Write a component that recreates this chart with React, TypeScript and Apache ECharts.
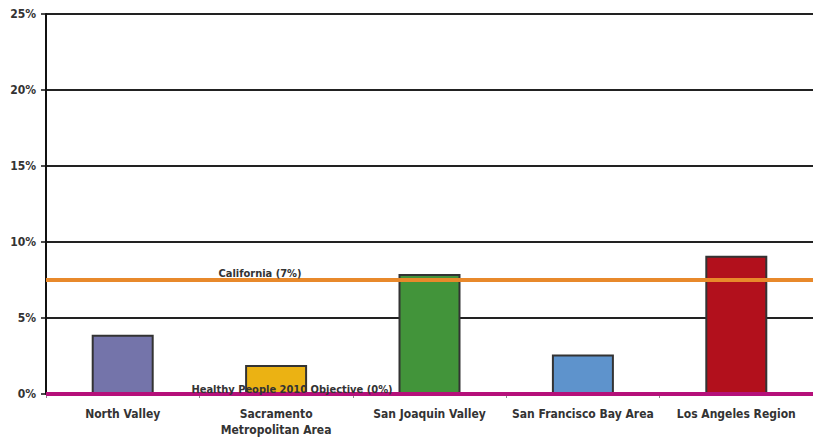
import React, { useEffect, useRef } from "react";
import * as echarts from "echarts";

const categories = [
  "North Valley",
  "Sacramento\nMetropolitan Area",
  "San Joaquin Valley",
  "San Francisco Bay Area",
  "Los Angeles Region",
];
const values = [3.9, 1.9, 7.9, 2.6, 9.1];
const barColors = ["#7474AA", "#EBB213", "#42943A", "#5E93CC", "#B2101C"];
const californiaValue = 7.5;
const objectiveValue = 0;
const californiaLabel = "California (7%)";
const objectiveLabel = "Healthy People 2010 Objective (0%)";

const FONT = "'DejaVu Sans Condensed', 'Liberation Sans Narrow', 'DejaVu Sans', sans-serif";

export default function App() {
  const ref = useRef<HTMLDivElement>(null);
  useEffect(() => {
    if (!ref.current) return;
    const chart = echarts.init(ref.current, undefined, { renderer: "svg" });
    chart.setOption({
      animation: false,
      backgroundColor: "#ffffff",
      grid: { left: 46, right: 0, top: 14, bottom: 40.5, containLabel: false },
      xAxis: {
        type: "category",
        data: categories,
        axisLine: { show: false },
        axisTick: { show: true, length: 4, lineStyle: { color: "#888", width: 1 } },
        axisLabel: {
          color: "#333",
          fontFamily: FONT,
          fontWeight: "bold",
          fontSize: 12,
          margin: 12,
          lineHeight: 16,
          interval: 0,
        },
      },
      yAxis: {
        type: "value",
        min: 0,
        max: 25,
        interval: 5,
        axisLine: { show: true, lineStyle: { color: "#111", width: 2 } },
        axisTick: { show: true, length: 5, lineStyle: { color: "#111", width: 1.5 } },
        axisLabel: {
          formatter: "{value}%",
          color: "#333",
          fontFamily: FONT,
          fontWeight: "bold",
          fontSize: 12,
          margin: 10,
        },
        splitLine: { show: true, lineStyle: { color: "#222", width: 2 } },
      },
      series: [
        {
          type: "bar",
          barWidth: 62,
          data: values.map((v, i) => ({
            value: v,
            itemStyle: { color: barColors[i], borderColor: "#333", borderWidth: 2 },
          })),
          markLine: {
            silent: true,
            symbol: "none",
            z: 10,
            label: { show: false },
            data: [
              { yAxis: californiaValue, lineStyle: { color: "#E8892B", width: 4, type: "solid" } },
              { yAxis: objectiveValue, lineStyle: { color: "#B5107A", width: 4, type: "solid" } },
            ],
          },
        },
      ],
      graphic: [
        {
          type: "text",
          x: 260,
          y: 273,
          z: 100,
          style: {
            text: californiaLabel,
            fill: "#333",
            font: `bold 11px ${FONT}`,
            textAlign: "center",
            textVerticalAlign: "middle",
          },
        },
        {
          type: "text",
          x: 292,
          y: 389,
          z: 100,
          style: {
            text: objectiveLabel,
            fill: "#333",
            font: `bold 11px ${FONT}`,
            textAlign: "center",
            textVerticalAlign: "middle",
          },
        },
      ],
    });
    return () => chart.dispose();
  }, []);
  return (
    <div
      ref={ref}
      style={{ position: "absolute", left: 0, top: 0, width: 813, height: 438 }}
    />
  );
}
